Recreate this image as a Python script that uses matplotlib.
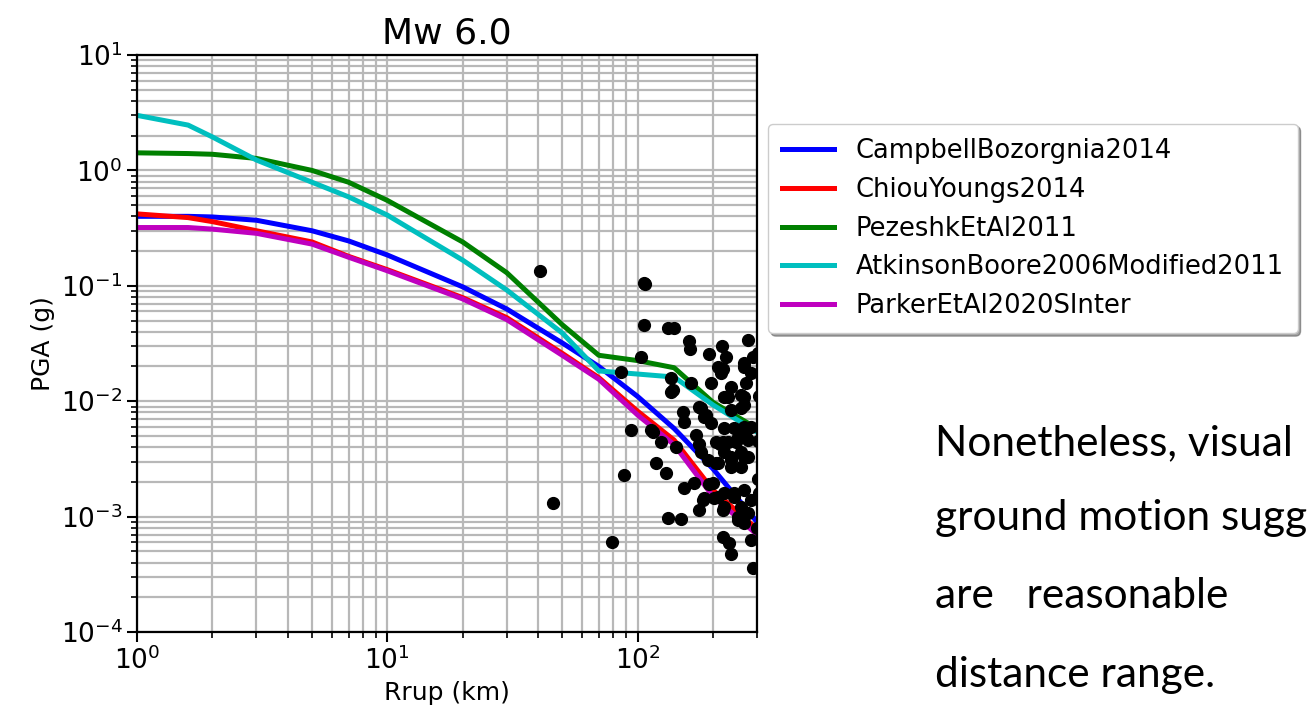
import matplotlib
matplotlib.use('Agg')
import matplotlib.pyplot as plt

# distances (km) where the GMPE curves were read
rrup = [1, 1.6, 2, 3, 5, 7, 10, 20, 30, 50, 70, 100, 140, 200, 300]

cb14 = [0.40, 0.40, 0.395, 0.37, 0.30, 0.245, 0.185, 0.098, 0.063, 0.032, 0.020, 0.011, 0.0058, 0.0026, 0.0009]
cy14 = [0.42, 0.39, 0.36, 0.30, 0.24, 0.18, 0.138, 0.079, 0.053, 0.026, 0.016, 0.0082, 0.0046, 0.0017, 0.00078]
pez11 = [1.42, 1.40, 1.38, 1.27, 1.0, 0.79, 0.55, 0.24, 0.13, 0.046, 0.025, 0.0225, 0.0195, 0.0098, 0.0058]
ab06 = [3.0, 2.47, 1.95, 1.23, 0.79, 0.59, 0.41, 0.167, 0.092, 0.039, 0.0183, 0.0172, 0.0162, 0.0093, 0.0054]
pk20 = [0.32, 0.32, 0.31, 0.285, 0.23, 0.177, 0.135, 0.077, 0.051, 0.025, 0.0155, 0.0076, 0.0042, 0.0015, 0.0007]

models = ['CampbellBozorgnia2014', 'ChiouYoungs2014', 'PezeshkEtAl2011',
          'AtkinsonBoore2006Modified2011', 'ParkerEtAl2020SInter']
colors = ['b', 'r', 'g', 'c', 'm']

# observed records
obs_r = [40.9, 105.7, 107, 105.7, 103, 85.5, 93.8, 112.7, 87.9, 46.1, 78.7,
         131.8, 139.3, 160, 161.4, 192.3, 216.8, 224.9, 275.4, 265.5, 288.4,
         209, 218.8, 265.5, 135.5, 135.5, 163, 195.9, 270.4, 229, 258, 235.5,
         265.5, 151.4, 152.8, 175.4, 183.7, 195.9, 114.8, 123.6, 141.9, 170.6,
         175.4, 205, 218.8, 246.6, 251, 270.4, 178.6, 190.5, 205, 235.5, 265.5,
         235.5, 118, 129.4, 152.8, 167.5, 183.7, 175.4, 199.5, 209, 218.8, 242,
         265.5, 251, 275.4, 131.8, 148.6, 218.8, 231, 235.5, 283, 288.4, 138,
         214.8, 235.5, 265.5, 283, 220.8, 258, 178.6, 187, 220.8, 242, 265.5,
         283, 213, 229, 251, 275.4, 258, 220.8, 209, 235.5, 275.4, 258, 192.3,
         182, 220.8, 201.4, 242, 258, 283, 220.8, 251, 265.5, 303, 305, 302,
         306, 301, 304]
obs_pga = [0.134, 0.105, 0.104, 0.0457, 0.0241, 0.0179, 0.0056, 0.0056, 0.0023,
           0.0013, 0.0006, 0.043, 0.043, 0.0333, 0.0283, 0.0257, 0.030, 0.0241,
           0.0339, 0.0214, 0.0241, 0.0198, 0.0190, 0.0198, 0.0159, 0.0120,
           0.0144, 0.0144, 0.0144, 0.0109, 0.0113, 0.0084, 0.0093, 0.0081,
           0.0066, 0.0089, 0.0073, 0.0065, 0.0054, 0.0044, 0.0040, 0.0051,
           0.0043, 0.0044, 0.0044, 0.0044, 0.0056, 0.0049, 0.0036, 0.0031,
           0.0029, 0.0033, 0.0033, 0.0027, 0.0029, 0.0024, 0.00177, 0.00195,
           0.00145, 0.00114, 0.00195, 0.00148, 0.00114, 0.00148, 0.0017,
           0.00099, 0.00107, 0.00097, 0.00095, 0.00067, 0.00059, 0.00047,
           0.00063, 0.00036, 0.0125, 0.0175, 0.0133, 0.0109, 0.0175, 0.0109,
           0.0087, 0.0087, 0.0076, 0.0059, 0.0059, 0.0060, 0.0060, 0.0043,
           0.0044, 0.0049, 0.0046, 0.0036, 0.0036, 0.0029, 0.0031, 0.0033,
           0.0027, 0.0019, 0.0014, 0.0016, 0.00145, 0.0016, 0.00121, 0.0014,
           0.00121, 0.00094, 0.00088, 0.026, 0.011, 0.0045, 0.0016, 0.0008,
           0.0021]

# paragraph on the right, cut off by the page edge in the original
text_lines = ['Nonetheless, visual', 'ground motion sugg',
              'are   reasonable', 'distance range.']

fig = plt.figure(figsize=(13.09, 7.21), dpi=100)
ax = fig.add_axes([0.1047, 0.1234, 0.4736, 0.8003])

for vals, name, c in zip([cb14, cy14, pez11, ab06, pk20], models, colors):
    ax.plot(rrup, vals, color=c, lw=3.6, label=name, zorder=2)
ax.plot(obs_r, obs_pga, 'ko', ms=8.5, zorder=3)

ax.set_xscale('log')
ax.set_yscale('log')
ax.set_xlim(1, 300)
ax.set_ylim(1e-4, 10)
ax.grid(True, which='both', color='#b8b8b8', lw=1.6)
ax.set_axisbelow(True)
for s in ax.spines.values():
    s.set_linewidth(1.6)
ax.tick_params(which='major', labelsize=19, length=7, width=1.5)
ax.tick_params(which='minor', length=4, width=1.2)
ax.set_xlabel('Rrup (km)', fontsize=18)
ax.set_ylabel('PGA (g)', fontsize=18)
ax.set_title('Mw 6.0', fontsize=26, pad=8)

ax.legend(loc='upper left', bbox_to_anchor=(1.018, 0.881), fontsize=18.5,
          labelspacing=0.5, borderpad=0.55, handletextpad=0.85,
          shadow=True, fancybox=True, borderaxespad=0)

baselines = [455, 530, 608, 687]
for line, yb in zip(text_lines, baselines):
    fig.text(935 / 1309, 1 - yb / 721, line, fontsize=30.5, family='Lato',
             va='baseline', ha='left')

fig.savefig('out.png', dpi=100)
